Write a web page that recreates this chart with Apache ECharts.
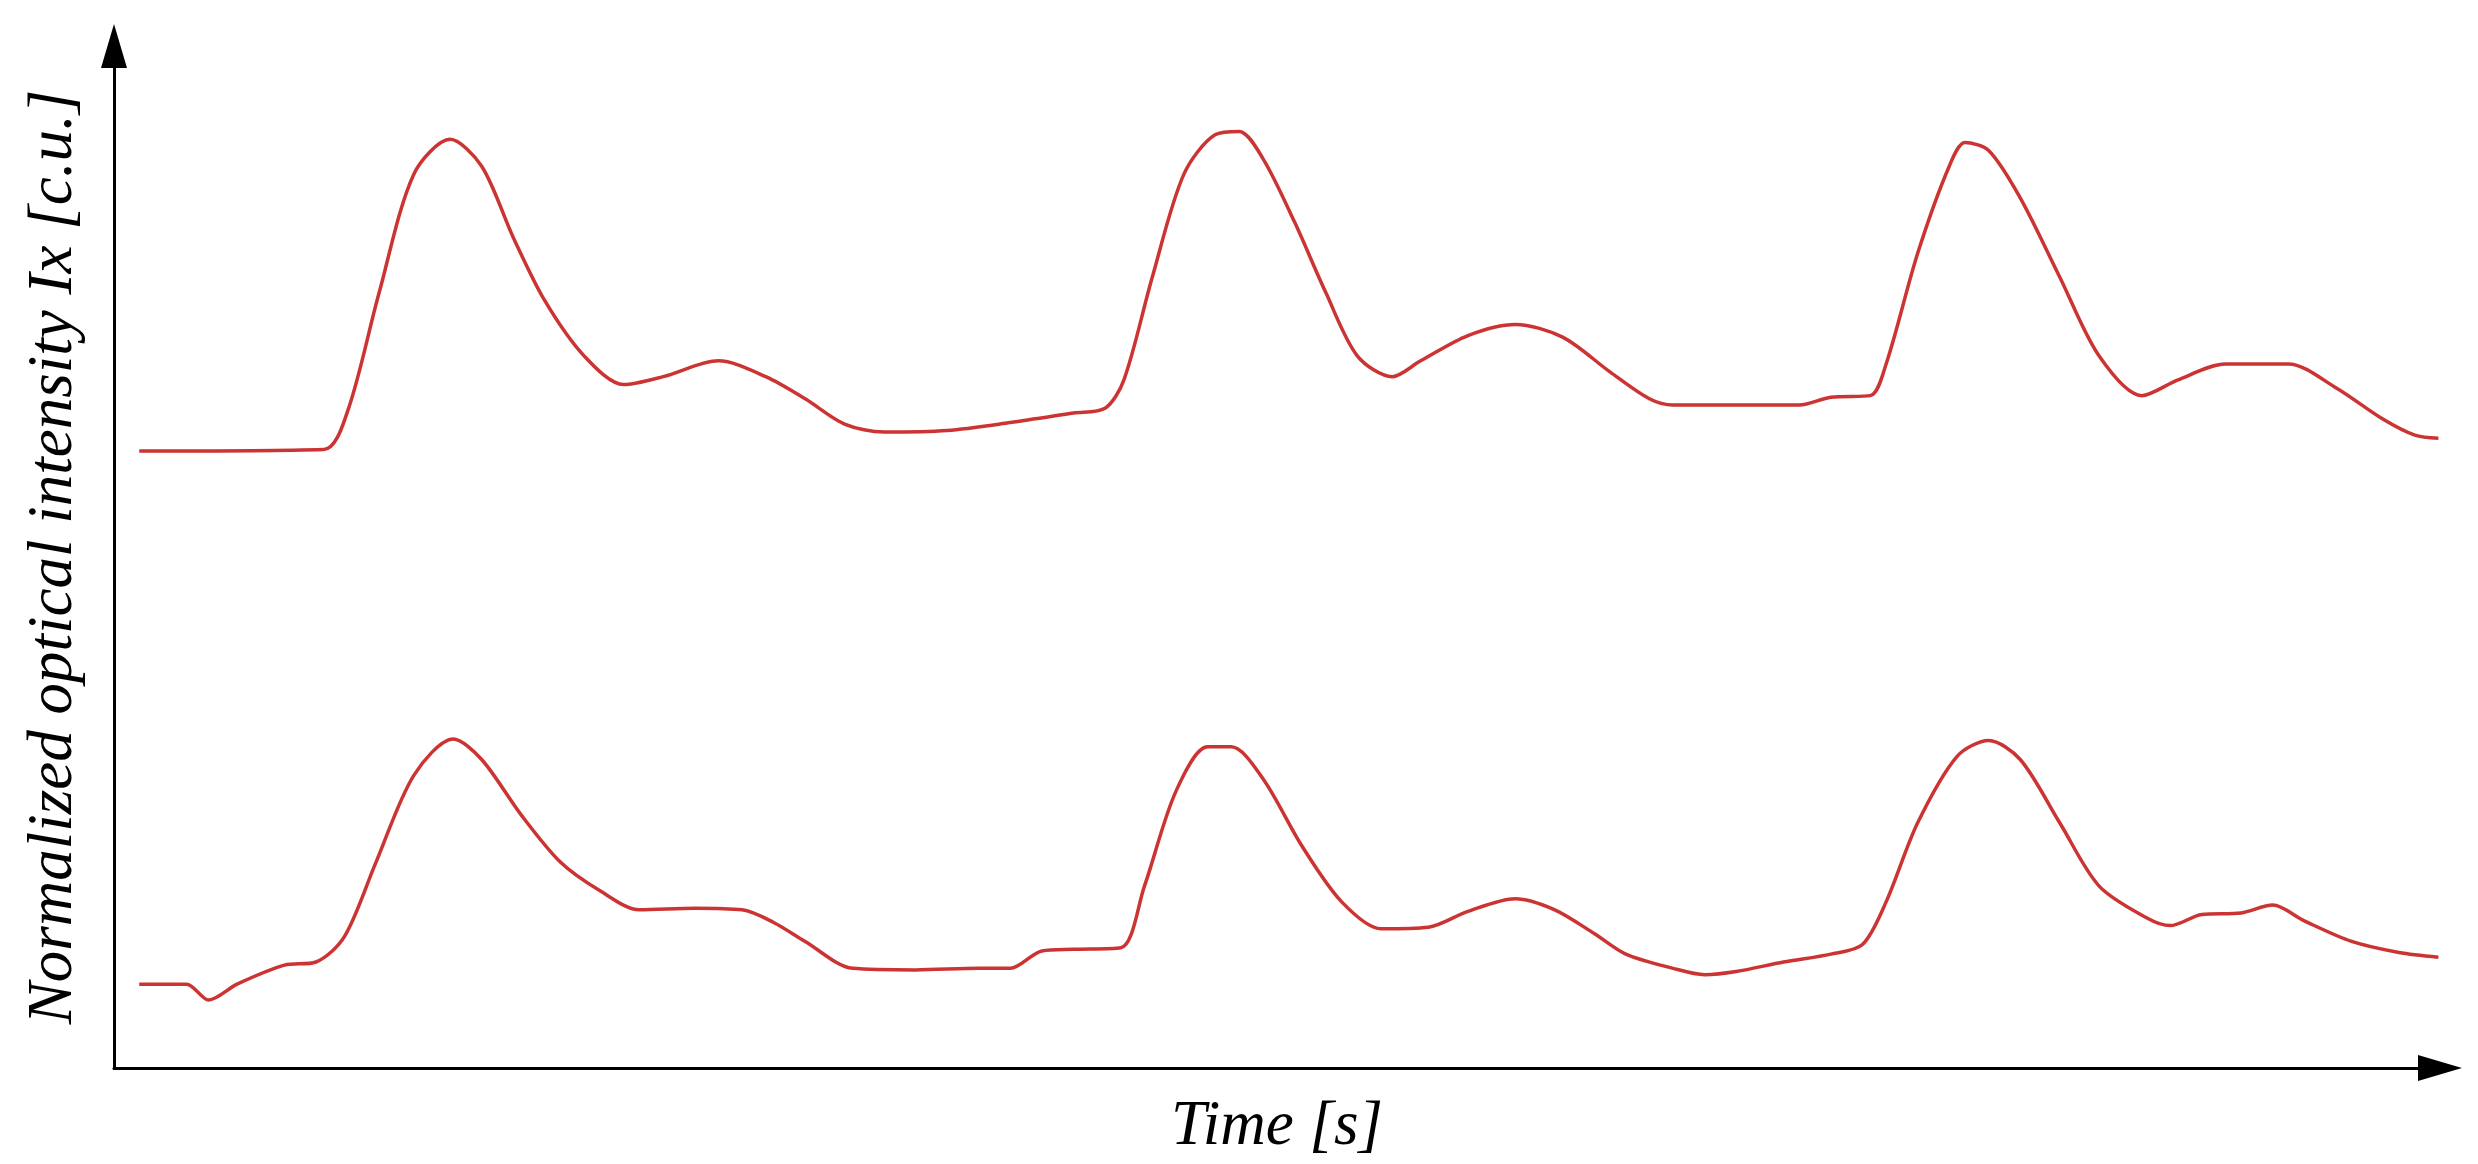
<!DOCTYPE html>
<html>
<head>
<meta charset="utf-8">
<script src="https://cdn.jsdelivr.net/npm/echarts@6/dist/echarts.min.js"></script>
<style>html,body{margin:0;padding:0;background:#fff}#chart{width:2478px;height:1164px}</style>
</head>
<body>
<div id="chart"></div>
<script>
// time values (arbitrary units) and normalized intensity
var topTime = [1.6,13.3,14.8,16.8,19,21.3,23.3,25.3,27.3,29.8,32.3,34.8,38.3,41.3,43.8,46.3,48.8,52.8,56.8,60.8,62.8,64,65.8,67.8,69.8,71.3,72.8,74.8,76.8,78.8,81,82.8,85.8,88.8,91.8,94.8,97.3,98.8,102.8,106.8,108.8,111.3,112.3,114.3,116.3,117.3,118.8,120.8,123.3,125.8,128.5,130.8,133.8,137.8,140.8,143.8,145.8,147.3];
var topVal = [3.90,3.91,4.15,4.90,5.65,5.87,5.70,5.25,4.85,4.50,4.32,4.37,4.47,4.37,4.23,4.07,4.02,4.03,4.08,4.14,4.17,4.35,5.00,5.65,5.90,5.92,5.75,5.35,4.90,4.50,4.37,4.47,4.63,4.70,4.62,4.40,4.23,4.19,4.19,4.19,4.24,4.25,4.45,5.15,5.70,5.85,5.80,5.50,5.00,4.50,4.25,4.35,4.45,4.45,4.30,4.10,4.00,3.98];
var botTime = [1.6,4.6,6,7.8,10.8,12.8,14.6,16.6,19,21.5,23.3,25.8,28.3,30.8,33.3,36.8,39.8,41.8,43.8,46.8,50.8,54.8,56.8,58.8,60.8,63.8,65.3,67.3,69.3,70.8,72.8,75.3,77.8,80.3,83.3,85.8,88.8,91.3,93.8,95.8,98.8,100.8,102.8,105.8,108.8,110.8,112.3,114.3,116.8,118.8,120.8,123.3,125.8,128.8,130.3,132.3,134.8,136.8,138.8,141.8,144.8,147.3];
var botVal = [0.53,0.53,0.43,0.53,0.65,0.67,0.83,1.30,1.85,2.08,1.95,1.60,1.30,1.12,1.00,1.01,1.00,0.92,0.80,0.63,0.62,0.63,0.63,0.74,0.75,0.76,1.15,1.75,2.03,2.03,1.83,1.40,1.05,0.88,0.89,0.99,1.07,1.00,0.85,0.72,0.63,0.59,0.61,0.67,0.72,0.78,1.05,1.55,1.97,2.07,1.95,1.55,1.15,0.95,0.90,0.97,0.98,1.03,0.93,0.80,0.73,0.70];

function pairs(xs, ys) {
  return xs.map(function (x, i) { return [x, ys[i]]; });
}

var myChart = echarts.init(document.getElementById('chart'));
var nameFont = { fontFamily: 'Liberation Serif', fontStyle: 'italic', fontSize: 63, color: '#000' };
var option = {
  animation: false,
  grid: { left: 114, right: 38, top: 46, bottom: 88 },
  xAxis: {
    type: 'value', min: 0, max: 147.4,
    name: 'Time [s]', nameLocation: 'middle', nameGap: 28, nameTextStyle: nameFont,
    axisLine: { lineStyle: { color: '#000', width: 3 }, symbol: ['none', 'triangle'], symbolSize: [26, 44] },
    axisTick: { show: false }, axisLabel: { show: false }, splitLine: { show: false }
  },
  yAxis: {
    type: 'value', min: 0, max: 6.46,
    name: 'Normalized optical intensity Ix [c.u.]', nameLocation: 'middle', nameGap: 28, nameTextStyle: nameFont,
    axisLine: { lineStyle: { color: '#000', width: 3 }, symbol: ['none', 'triangle'], symbolSize: [26, 44] },
    axisTick: { show: false }, axisLabel: { show: false }, splitLine: { show: false }
  },
  series: [
    { type: 'line', data: pairs(topTime, topVal), smooth: 0.3, showSymbol: false,
      lineStyle: { color: '#cc3333', width: 3.5 } },
    { type: 'line', data: pairs(botTime, botVal), smooth: 0.3, showSymbol: false,
      lineStyle: { color: '#cc3333', width: 3.5 } }
  ]
};
myChart.setOption(option);
</script>
</body>
</html>
